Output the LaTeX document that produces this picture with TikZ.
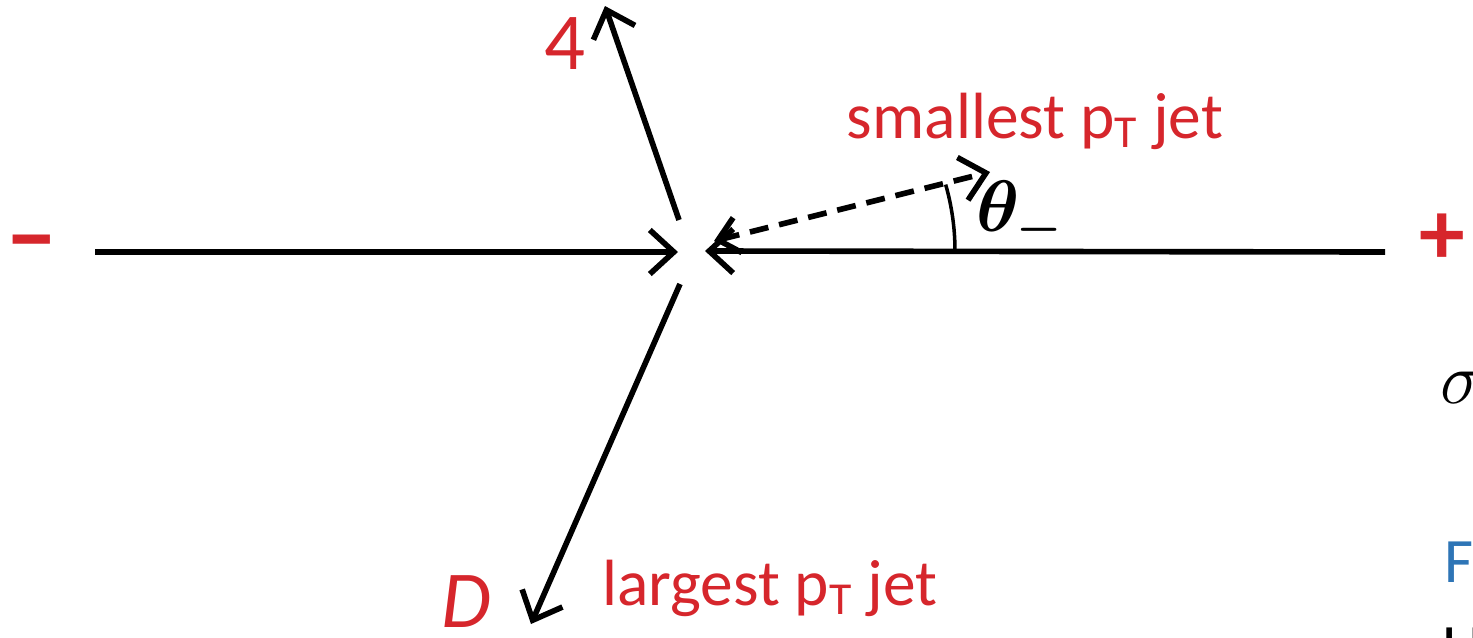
\documentclass[tikz,border=0pt]{standalone}
\usepackage{fontspec}
\usepackage{bm}
\setmainfont{Carlito}
\usetikzlibrary{positioning,arrows.meta,calc}
\definecolor{jetred}{RGB}{214,38,44}
\definecolor{capblue}{RGB}{46,117,182}
\tikzset{
  axis/.style={-{Straight Barb[length=2.4mm, width=4.4mm]}, line width=1.6pt, black},
  jetarrow/.style={-{Straight Barb[length=2.4mm, width=4.4mm]}, line width=1.6pt, black},
  dasharrow/.style={{Straight Barb[length=2mm, width=3.6mm]}-{Straight Barb[length=2.4mm, width=4.4mm]}, line width=1.6pt, dash pattern=on 1.9mm off 1.1mm},
  lbl/.style={text=jetred, font=\fontsize{18.6}{22}\selectfont, inner sep=0pt},
  bigsign/.style={text=jetred, font=\fontsize{26}{30}\selectfont\bfseries, inner sep=0pt}
}

\begin{document}
\begin{tikzpicture}[x=0.1mm, y=-0.1mm]
    \useasboundingbox (0,0) rectangle (1473,637);
    % beam axis
    \coordinate (o) at (692,251);
    \coordinate (lbeam) at (95,252);
    \coordinate (rbeam) at (1385,252);
    \coordinate (ltip) at (678,252);
    \coordinate (rtip) at (705,251);
    \draw[axis] (lbeam) -- (ltip);
    \draw[axis] (rbeam) -- (rtip);
    \node[bigsign] (minus) at (32,252) {\fontsize{30}{30}\selectfont\mdseries\textbf{–}};
    \node[bigsign] (plus) at (1442,239) {+};
    % jets
    \coordinate (upstart) at (679,220);
    \coordinate (uptip) at (605,6);
    \coordinate (dnstart) at (680,284);
    \coordinate (dntip) at (531,624);
    \draw[jetarrow] (upstart) -- (uptip);
    \draw[jetarrow] (dnstart) -- (dntip);
    \node[lbl, font=\fontsize{23}{26}\selectfont] (four) at (565,44) {4};
    \node[lbl, font=\fontsize{23}{26}\selectfont\itshape] (dlab) at (466,602) {D};
    \node[lbl] (largest) at (770,588) {largest p$_{\mathrm{T}}$ jet};
    % smallest jet + angle
    \coordinate (dstart) at (714,241);
    \coordinate (dtip) at (990,172);
    \draw[dasharrow] (dstart) -- (dtip);
    \node[lbl] (smallest) at (1035,121) {smallest p$_{\mathrm{T}}$ jet};
    \draw[line width=1pt] ($(dstart)+(241,10)$) arc[start angle=0, end angle=-16, radius=241];
    \node[inner sep=0pt, font=\fontsize{21}{24}\selectfont] (theta) at (1020,215) {$\bm{\theta_{-}}$};
    % clipped text at the right edge
    \node[inner sep=0pt, anchor=west, font=\fontsize{20}{24}\selectfont] (sigma) at (1440,388) {$\sigma$};
    \node[inner sep=0pt, anchor=west, text=capblue, font=\fontsize{18}{22}\selectfont] (ftxt) at (1444,562) {F};
    \node[inner sep=0pt, anchor=west, font=\fontsize{18}{22}\selectfont] (utxt) at (1442,648) {U};
  \end{tikzpicture}
\end{document}
